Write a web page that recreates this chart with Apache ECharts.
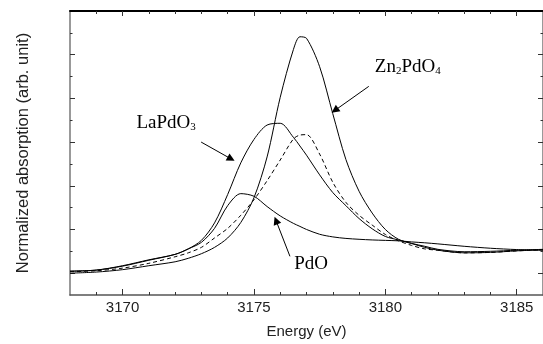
<!DOCTYPE html>
<html>
<head>
<meta charset="utf-8">
<script src="https://cdn.jsdelivr.net/npm/echarts@6/dist/echarts.min.js"></script>
<style>
  html, body { margin: 0; padding: 0; background: #fff; }
  #chart { width: 543px; height: 344px; }
</style>
</head>
<body>
<div id="chart"></div>
<script>
// energy grid (eV) shared by all four spectra
const energy = [3168, 3169, 3170, 3171, 3172, 3172.5, 3173, 3173.5, 3174, 3174.5, 3175, 3175.5, 3176, 3176.5, 3176.75,
  3177, 3177.5, 3178, 3178.5, 3179, 3179.5, 3180, 3180.5, 3181, 3181.5, 3182, 3183, 3184, 3185, 3186];

const laPdO3 = [1.09, 1.14, 1.34, 1.61, 1.86, 2.11, 2.50, 3.30, 4.60, 6.05, 7.12, 7.78, 7.86, 7.22, 6.82,
  6.40, 5.50, 4.69, 4.09, 3.50, 3.03, 2.68, 2.52, 2.36, 2.23, 2.09, 1.98, 2.00, 2.05, 2.09];

const zn2PdO4 = [1.00, 1.05, 1.16, 1.34, 1.52, 1.68, 1.89, 2.18, 2.61, 3.32, 4.45, 6.32, 9.05, 11.23, 11.82,
  11.75, 10.45, 8.30, 6.20, 4.75, 3.75, 3.00, 2.55, 2.36, 2.18, 2.05, 1.93, 1.95, 2.02, 2.07];

// dashed curve, not labelled in the figure
const dashed = [1.07, 1.11, 1.23, 1.45, 1.75, 1.93, 2.18, 2.61, 3.05, 3.65, 4.36, 5.23, 6.18, 7.14, 7.32,
  7.34, 6.45, 5.16, 4.24, 3.65, 3.20, 2.77, 2.48, 2.27, 2.11, 2.05, 1.93, 1.95, 2.02, 2.07];

const pdO = [1.09, 1.14, 1.32, 1.59, 1.86, 2.11, 2.41, 3.05, 4.09, 4.64, 4.52, 4.05, 3.62, 3.28, 3.14,
  3.00, 2.78, 2.66, 2.59, 2.55, 2.52, 2.50, 2.48, 2.43, 2.39, 2.34, 2.23, 2.14, 2.08, 2.05];

const xMajorTicks = [3170, 3175, 3180, 3185];
const xMinorTicks = [3169, 3171, 3172, 3173, 3174, 3176, 3177, 3178, 3179, 3181, 3182, 3183, 3184];
const yLongTicks = [1, 3, 5, 7, 9, 11];
const yShortTicks = [2, 4, 6, 8, 10, 12];

const chart = echarts.init(document.getElementById('chart'));

const pairs = arr => energy.map((e, i) => [e, arr[i]]);

const sansFont = 'Liberation Sans, Arial, sans-serif';
const serifFont = 'Liberation Serif, Times New Roman, serif';

function xAxisDef(pos, ticks, len, line, labels) {
  return {
    type: 'value', position: pos, min: 3168, max: 3186,
    axisLine: line ? { show: true, onZero: false, lineStyle: line } : { show: false, onZero: false },
    axisTick: { show: true, inside: true, length: len, customValues: ticks, lineStyle: { color: '#333', width: 1 } },
    axisLabel: labels
      ? { show: true, customValues: ticks, margin: 5, fontSize: 15, color: '#222', fontFamily: sansFont,
          formatter: v => String(v) }
      : { show: false },
    splitLine: { show: false }
  };
}

function yAxisDef(pos, ticks, len, line) {
  return {
    type: 'value', position: pos, min: 0, max: 13,
    axisLine: line ? { show: true, onZero: false, lineStyle: line } : { show: false, onZero: false },
    axisTick: { show: true, inside: true, length: len, customValues: ticks, lineStyle: { color: '#333', width: 1 } },
    axisLabel: { show: false },
    splitLine: { show: false }
  };
}

const bottomAxis = xAxisDef('bottom', xMajorTicks, 6, { color: '#555', width: 1.5 }, true);
bottomAxis.name = 'Energy (eV)';
bottomAxis.nameLocation = 'middle';
bottomAxis.nameGap = 29;
bottomAxis.nameTextStyle = { fontSize: 15, color: '#222', fontFamily: sansFont };

const leftAxis = yAxisDef('left', yLongTicks, 5, { color: '#777', width: 1.5 });
leftAxis.name = 'Normalized absorption (arb. unit)';
leftAxis.nameLocation = 'middle';
leftAxis.nameGap = 38;
leftAxis.nameTextStyle = { fontSize: 16.5, color: '#222', fontFamily: sansFont };

const curve = (name, data, type) => ({
  name: name,
  type: 'line',
  data: pairs(data),
  showSymbol: false,
  smooth: 0.3,
  lineStyle: { color: '#000', width: 1, type: type || 'solid' },
  silent: true
});

const laSeries = curve('LaPdO3', laPdO3);
laSeries.markPoint = {
  symbol: 'circle', symbolSize: 0, silent: true,
  label: {
    show: true, position: 'right', distance: 0,
    rich: {
      m: { fontSize: 19, fontFamily: serifFont, color: '#000' },
      s: { fontSize: 11, fontFamily: serifFont, color: '#000', verticalAlign: 'bottom', lineHeight: 9 }
    }
  },
  data: [
    { coord: [3170.53, 7.86], label: { formatter: '{m|LaPdO}{s|3}' } },
    { coord: [3179.6, 10.45], label: { formatter: '{m|Zn}{s|2}{m|PdO}{s|4}' } },
    { coord: [3176.53, 1.41], label: { formatter: '{m|PdO}' } }
  ]
};
laSeries.markLine = {
  silent: true,
  symbol: ['none', 'triangle'],
  symbolSize: 8,
  label: { show: false },
  lineStyle: { color: '#000', width: 1, type: 'solid' },
  itemStyle: { color: '#000' },
  data: [
    [{ coord: [3172.99, 7.0] }, { coord: [3174.13, 6.23] }],
    [{ coord: [3179.37, 9.55] }, { coord: [3178.08, 8.45] }],
    [{ coord: [3176.37, 1.77] }, { coord: [3175.84, 3.41] }]
  ]
};

const option = {
  animation: false,
  backgroundColor: '#fff',
  grid: { left: 70, top: 11, width: 474, height: 286 },
  xAxis: [
    bottomAxis,
    xAxisDef('bottom', xMinorTicks, 3, null, false),
    xAxisDef('top', xMajorTicks, 5, { color: '#000', width: 2 }, false),
    xAxisDef('top', xMinorTicks, 3, null, false)
  ],
  yAxis: [
    leftAxis,
    yAxisDef('left', yShortTicks, 2.5, null),
    yAxisDef('right', yLongTicks, 5, { color: '#777', width: 1.5 }),
    yAxisDef('right', yShortTicks, 2.5, null)
  ],
  series: [
    laSeries,
    curve('Zn2PdO4', zn2PdO4),
    curve('dashed', dashed, [4, 3]),
    curve('PdO', pdO)
  ]
};

chart.setOption(option);
</script>
</body>
</html>
